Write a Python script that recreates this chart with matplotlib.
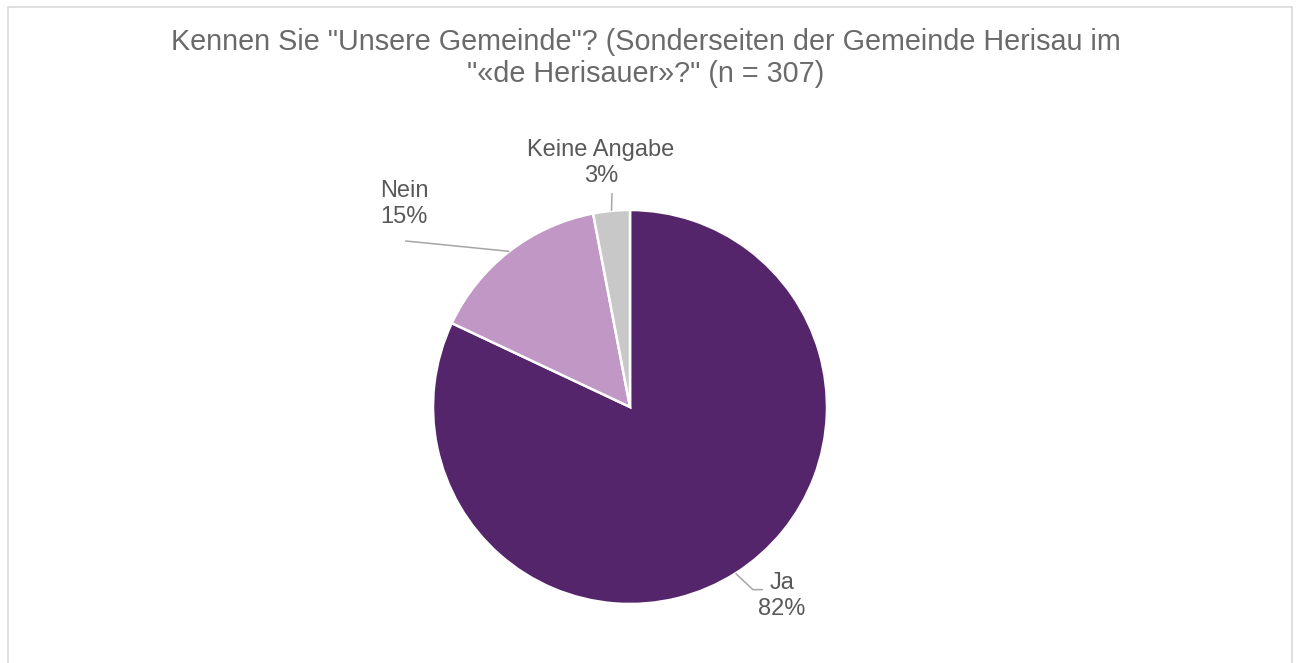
import numpy as np
import matplotlib
matplotlib.use("Agg")
import matplotlib.pyplot as plt
import matplotlib.patches as patches

plt.rcParams["font.family"] = ["Liberation Sans", "DejaVu Sans"]

# data
categories = ["Ja", "Nein", "Keine Angabe"]
shares = [82, 15, 3]
colors = ["#55256B", "#C197C5", "#C8C8C8"]
title_lines = ['Kennen Sie "Unsere Gemeinde"? (Sonderseiten der Gemeinde Herisau im',
               '"«de Herisauer»?" (n = 307)']

W, H = 1298, 663
fig = plt.figure(figsize=(W / 100, H / 100), dpi=100)
ax = fig.add_axes([0, 0, 1, 1])

# pie centre / radius in pixels
cx, cy, r = 630, 407, 197

wedges, _ = ax.pie(shares, colors=colors, startangle=90, counterclock=False,
                   radius=1, center=(0, 0), frame=True,
                   wedgeprops=dict(edgecolor="white", linewidth=1.8))
ax.set_xlim(-cx / r, (W - cx) / r)
ax.set_ylim((cy - H) / r, cy / r)
ax.axis("off")

text_col = "#595959"
title_col = "#6A6A6A"
line_col = "#A6A6A6"

# label placement (text centre, leader points) per slice
label_pos = {
    "Ja": (0.77, -0.96),
    "Nein": (-1.147, 1.03),
    "Keine Angabe": (-0.147, 1.239),
}
leader_mid = {
    "Ja": [(0.624, -0.927), (0.675, -0.927)],
    "Nein": [(-1.142, 0.843)],
    "Keine Angabe": [(-0.091, 1.086)],
}

for w, cat, val in zip(wedges, categories, shares):
    ang = np.deg2rad((w.theta1 + w.theta2) / 2)
    ax0, ay0 = np.cos(ang), np.sin(ang)
    pts = [(ax0, ay0)] + leader_mid[cat]
    xs, ys = zip(*pts)
    ax.plot(xs, ys, color=line_col, lw=1.1, solid_capstyle="butt")
    tx, ty = label_pos[cat]
    ax.text(tx, ty, f"{cat}\n{val}%", ha="center", va="center",
            fontsize=17, color=text_col, linespacing=1.22)

fig.text(646 / W, 1 - 42 / H, title_lines[0], ha="center", va="center",
         fontsize=20.7, color=title_col)
fig.text(646 / W, 1 - 74 / H, title_lines[1], ha="center", va="center",
         fontsize=20.7, color=title_col)

border = patches.Rectangle((7.5 / W, -0.05), (1291.5 - 7.5) / W, 1 - 7.5 / H + 0.05,
                           transform=fig.transFigure, fill=False,
                           edgecolor="#D9D9D9", linewidth=1.2)
fig.add_artist(border)

fig.savefig("out.png", dpi=100, facecolor="white")
